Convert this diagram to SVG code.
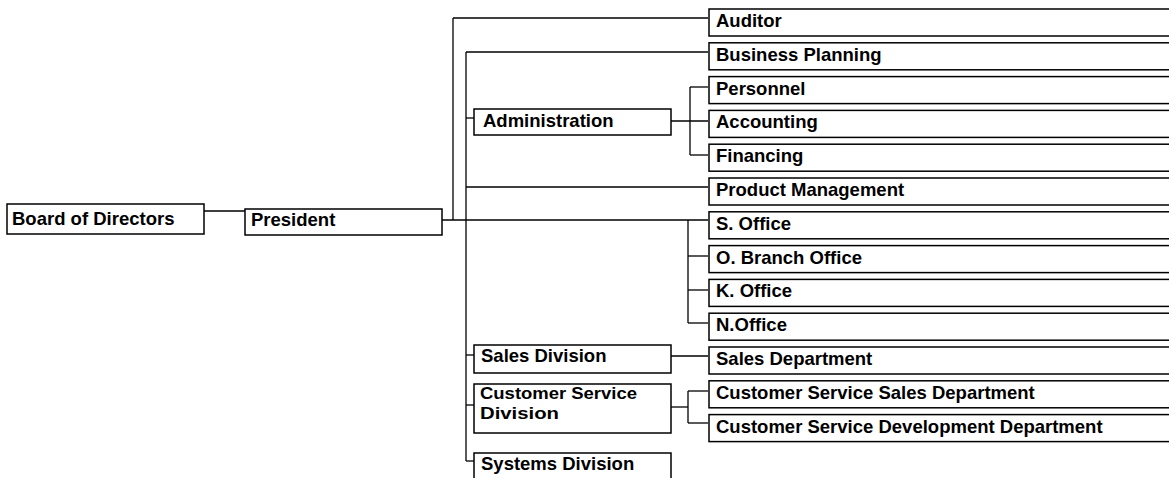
<svg xmlns="http://www.w3.org/2000/svg" width="1169" height="478" viewBox="0 0 1169 478">
<style>
  rect { fill: #fff; stroke: #000; stroke-width: 1.5; }
  text { font-family: "Liberation Sans", Arial, sans-serif; font-weight: bold; font-size: 18.5px; fill: #000; }
  text.tight { font-size: 17px; }
  #connectors line { stroke: #000; stroke-width: 1.3; }
</style>
<rect x="0" y="0" width="1169" height="478" style="stroke:none"/>
<g id="connectors">
  <line x1="204" y1="211" x2="245" y2="211"/>
  <line x1="442" y1="220" x2="708" y2="220"/>
  <line x1="453" y1="18" x2="453" y2="220"/>
  <line x1="453" y1="18" x2="708" y2="18"/>
  <line x1="466" y1="52" x2="466" y2="461"/>
  <line x1="466" y1="52" x2="708" y2="52"/>
  <line x1="466" y1="118" x2="474" y2="118"/>
  <line x1="466" y1="187" x2="708" y2="187"/>
  <line x1="466" y1="355" x2="474" y2="355"/>
  <line x1="466" y1="405" x2="474" y2="405"/>
  <line x1="466" y1="461" x2="474" y2="461"/>
  <line x1="671" y1="121" x2="708" y2="121"/>
  <line x1="690" y1="87" x2="690" y2="155"/>
  <line x1="690" y1="87" x2="708" y2="87"/>
  <line x1="690" y1="155" x2="708" y2="155"/>
  <line x1="688" y1="220" x2="688" y2="323"/>
  <line x1="688" y1="256" x2="708" y2="256"/>
  <line x1="688" y1="290" x2="708" y2="290"/>
  <line x1="688" y1="323" x2="708" y2="323"/>
  <line x1="671" y1="356" x2="708" y2="356"/>
  <line x1="671" y1="407" x2="688" y2="407"/>
  <line x1="688" y1="391" x2="688" y2="423"/>
  <line x1="688" y1="391" x2="708" y2="391"/>
  <line x1="688" y1="423" x2="708" y2="423"/>
</g>
<g id="board"><rect x="7" y="204" width="197" height="30"/><text x="12" y="225">Board of Directors</text></g>
<g id="president"><rect x="245" y="209" width="197" height="26"/><text x="251" y="226">President</text></g>
<g id="administration"><rect x="474" y="109" width="197" height="26"/><text x="483" y="127">Administration</text></g>
<g id="sales-division"><rect x="474" y="345" width="197" height="28"/><text x="481" y="362">Sales Division</text></g>
<g id="cs-division"><rect x="474" y="384" width="197" height="49"/><text class="tight" x="480" y="399" textLength="157" lengthAdjust="spacingAndGlyphs">Customer Service</text><text class="tight" x="480" y="419" textLength="79" lengthAdjust="spacingAndGlyphs">Division</text></g>
<g id="systems-division"><rect x="474" y="453" width="197" height="30"/><text x="481" y="470">Systems Division</text></g>
<g id="auditor"><rect x="709" y="9" width="470" height="27"/><text x="716" y="27">Auditor</text></g>
<g id="business-planning"><rect x="709" y="42.8" width="470" height="27"/><text x="716" y="60.8">Business Planning</text></g>
<g id="personnel"><rect x="709" y="76.6" width="470" height="27"/><text x="716" y="94.6">Personnel</text></g>
<g id="accounting"><rect x="709" y="110.4" width="470" height="27"/><text x="716" y="128.4">Accounting</text></g>
<g id="financing"><rect x="709" y="144.2" width="470" height="27"/><text x="716" y="162.2">Financing</text></g>
<g id="product-management"><rect x="709" y="178" width="470" height="27"/><text x="716" y="196">Product Management</text></g>
<g id="s-office"><rect x="709" y="211.8" width="470" height="27"/><text x="716" y="229.8">S. Office</text></g>
<g id="o-branch-office"><rect x="709" y="245.6" width="470" height="27"/><text x="716" y="263.6">O. Branch Office</text></g>
<g id="k-office"><rect x="709" y="279.4" width="470" height="27"/><text x="716" y="297.4">K. Office</text></g>
<g id="n-office"><rect x="709" y="313.2" width="470" height="27"/><text x="716" y="331.2">N.Office</text></g>
<g id="sales-department"><rect x="709" y="347" width="470" height="27"/><text x="716" y="365">Sales Department</text></g>
<g id="cs-sales-department"><rect x="709" y="380.8" width="470" height="27"/><text x="716" y="398.8">Customer Service Sales Department</text></g>
<g id="cs-development-department"><rect x="709" y="414.6" width="470" height="27"/><text x="716" y="432.6">Customer Service Development Department</text></g>
</svg>
